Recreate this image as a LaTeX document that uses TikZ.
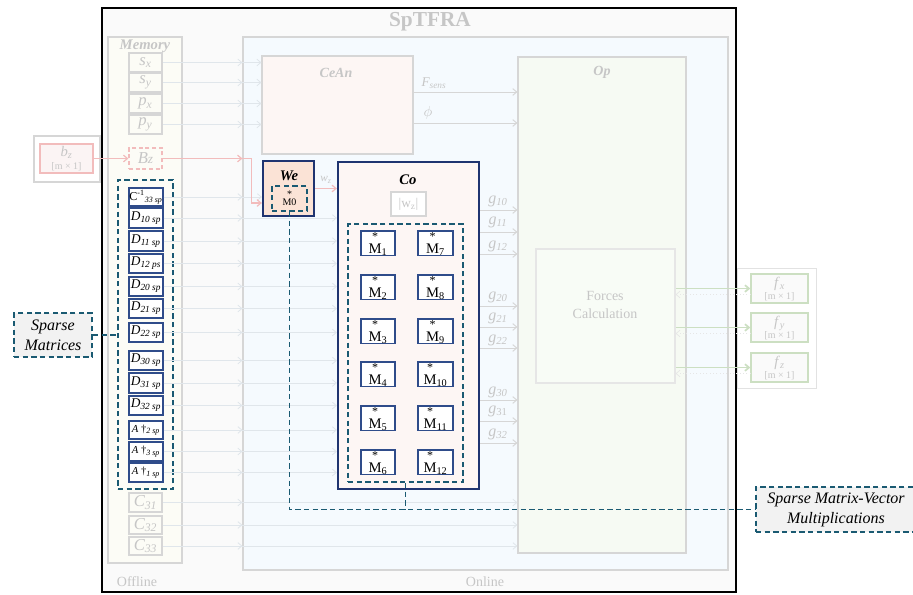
\documentclass[tikz,border=0pt]{standalone}
\usepackage{fontspec}
\setmainfont{Liberation Serif}
\usepackage{amsmath}
\usetikzlibrary{arrows.meta,calc}
\definecolor{fadegray}{HTML}{D6D6D6}
\definecolor{fadetext}{HTML}{C6C6C6}
\definecolor{navy}{HTML}{1F3470}
\definecolor{mnavy}{HTML}{2F4C8A}
\definecolor{tealc}{HTML}{1A5A72}
\definecolor{framefill}{HTML}{FAFAFA}
\definecolor{memfill}{HTML}{FCFCF6}
\definecolor{onfill}{HTML}{F5FAFE}
\definecolor{ceanfill}{HTML}{FDF6F4}
\definecolor{wefill}{HTML}{FBE3D6}
\definecolor{opfill}{HTML}{F6FAF3}
\definecolor{fcfill}{HTML}{F8FCF6}
\definecolor{pinkline}{HTML}{F2BCBC}
\definecolor{pinkfill}{HTML}{FBF4F4}
\definecolor{greenline}{HTML}{CCDFC2}
\definecolor{calloutfill}{HTML}{F2F2F2}
\definecolor{faintline}{HTML}{E0E6EB}
\newcommand{\mybox}[7][]{\node[#1,inner sep=0pt,align=center,minimum width={(#5-(#3))*0.75pt},minimum height={(#6-(#4))*0.75pt}] (#2) at ({(#3+#5)/2},{(#4+#6)/2}) {#7};}
\newcommand{\starM}[1]{$\overset{\text{\fontsize{9}{9}\selectfont *}}{\text{M}}_{\text{#1}}$}
\begin{document}
\begin{tikzpicture}[x=0.75pt,y=-0.75pt,
  barb/.style={-{Straight Barb[length=3pt,width=5pt]}},
  fadebox/.style={draw=fadegray,line width=0.8pt,fill=#1},
  fadebox/.default=white,
  spbox/.style={draw=mnavy,line width=1.1pt,fill=white,font=\fontsize{10}{11}\selectfont},
  mbox/.style={draw=mnavy,line width=0.9pt,fill=white,font=\fontsize{11}{11}\selectfont},
  navybox/.style={draw=navy,line width=1.6pt},
  tealdash/.style={draw=tealc,dash pattern=on 4pt off 2.5pt,line width=1.3pt},
  faintarrow/.style={draw=faintline,line width=0.6pt,barb},
  fadearrow/.style={draw=fadegray,line width=0.7pt,barb},
  pinkarrow/.style={draw=pinkline,line width=0.9pt,barb},
  greenarrow/.style={draw=greenline,line width=1.3pt,barb},
  memfont/.style={font=\fontsize{12.5}{13}\selectfont\itshape,text=fadetext},
]
\useasboundingbox (0,0) rectangle (913,594);
\fill[white] (0,0) rectangle (913,594);

% outer frame
\mybox[draw=black,line width=1pt,fill=framefill]{frame}{102}{8}{736}{592}{}
\node[font=\fontsize{16}{18}\selectfont\bfseries,text=fadetext] (title) at (430,22) {SpTFRA};

% memory column
\mybox[fadebox=memfill]{memory}{108}{37}{182}{563}{}
\node[font=\fontsize{11}{12}\selectfont\bfseries\itshape,text=fadetext] (memt) at (145,46) {Memory};
\node[font=\fontsize{10.5}{12}\selectfont,text=fadetext] (offl) at (137,582) {Offline};

% online area
\mybox[fadebox=onfill]{online}{243}{37}{728}{570}{}
\node[font=\fontsize{10.5}{12}\selectfont,text=fadetext] (onl) at (485,582) {Online};

% b_z input
\mybox[fadebox=white]{bzout}{34}{136}{100}{182}{}
\mybox[draw=pinkline,line width=0.9pt,fill=pinkfill,text=fadetext]{bzin}{40}{144}{93}{173}{{\fontsize{11}{11}\selectfont\textit{b}\textsubscript{\textit{z}}}\\[-2pt]{\fontsize{7.5}{8}\selectfont[m × 1]}}

% memory items
\mybox[fadebox=memfill,memfont]{sx}{129}{53}{162}{72}{s\textsubscript{x}}
\mybox[fadebox=memfill,memfont]{sy}{129}{73}{162}{92}{s\textsubscript{y}}
\mybox[fadebox=memfill,memfont]{px}{129}{94}{162}{113}{p\textsubscript{x}}
\mybox[fadebox=memfill,memfont]{py}{129}{115}{162}{134}{p\textsubscript{y}}
\mybox[draw=pinkline,dash pattern=on 3pt off 2pt,line width=0.9pt,fill=memfill,memfont]{Bz}{129}{148}{162}{169}{B{\fontsize{10}{10}\selectfont z}}

% sparse matrices group
\mybox[tealdash]{spgrp}{118}{180}{173}{489}{}
\mybox[spbox,font=\fontsize{9}{9}\selectfont]{c33i}{129}{188}{163}{206}{C\textsuperscript{\fontsize{6}{6}\selectfont -1}\textsubscript{\fontsize{6}{6}\selectfont\itshape 33 sp}}
\mybox[spbox]{d10}{129}{208}{163}{228}{$\textit{D}_{\textit{10 sp}}$}
\mybox[spbox]{d11}{129}{231}{163}{251}{$\textit{D}_{\textit{11 sp}}$}
\mybox[spbox]{d12}{129}{254}{163}{273}{$\textit{D}_{\textit{12 ps}}$}
\mybox[spbox]{d20}{129}{277}{163}{296}{$\textit{D}_{\textit{20 sp}}$}
\mybox[spbox]{d21}{129}{299}{163}{318}{$\textit{D}_{\textit{21 sp}}$}
\mybox[spbox]{d22}{129}{323}{163}{342}{$\textit{D}_{\textit{22 sp}}$}
\mybox[spbox]{d30}{129}{351}{163}{370}{$\textit{D}_{\textit{30 sp}}$}
\mybox[spbox]{d31}{129}{373}{163}{393}{$\textit{D}_{\textit{31 sp}}$}
\mybox[spbox]{d32}{129}{396}{163}{415}{$\textit{D}_{\textit{32 sp}}$}
\mybox[spbox,font=\fontsize{8}{9}\selectfont]{a2}{129}{421}{163}{439}{\textit{A} †$_{\textit{2 sp}}$}
\mybox[spbox,font=\fontsize{8}{9}\selectfont]{a3}{129}{442}{163}{461}{\textit{A} †$_{\textit{3 sp}}$}
\mybox[spbox,font=\fontsize{8}{9}\selectfont]{a1}{129}{463}{163}{482}{\textit{A} †$_{\textit{1 sp}}$}
\mybox[fadebox=memfill,memfont]{c31}{129}{493}{162}{512}{C\textsubscript{31}}
\mybox[fadebox=memfill,memfont]{c32}{129}{516}{162}{534}{C\textsubscript{32}}
\mybox[fadebox=memfill,memfont]{c33}{129}{537}{162}{555}{C\textsubscript{33}}

% CeAn
\mybox[fadebox=ceanfill]{cean}{262}{56}{413}{154}{}
\node[font=\fontsize{10.5}{12}\selectfont\bfseries\itshape,text=fadetext] (ceant) at (336,73) {CeAn};

% Op
\mybox[fadebox=opfill]{op}{518}{57}{686}{553}{}
\node[font=\fontsize{10.5}{12}\selectfont\bfseries\itshape,text=fadetext] (opt) at (602,72) {Op};
\mybox[draw=fadegray!60,line width=0.8pt,fill=fcfill]{fc}{536}{249}{675}{383}{}
\node[font=\fontsize{10.5}{13}\selectfont,text=fadetext,align=center] (fctext) at (605,305) {Forces\\Calculation};

% We
\mybox[navybox,fill=wefill]{we}{263}{161}{314}{216}{}
\node[font=\fontsize{11}{12}\selectfont\bfseries\itshape] (wet) at (289,176) {We};
\mybox[tealdash,font=\fontsize{7.5}{8}\selectfont]{m0}{272}{186}{307}{211}{*\\[-2pt]M0}

% Co
\mybox[navybox,fill=ceanfill]{co}{338}{162}{479}{489}{}
\node[font=\fontsize{11}{12}\selectfont\bfseries\itshape] (cot) at (408,180) {Co};
\mybox[fadebox=white,font=\fontsize{10}{11}\selectfont,text=fadetext]{wz}{391}{192}{426}{216}{|w\textsubscript{z}|}
\mybox[tealdash]{mgrp}{348}{224}{463}{482}{}
\foreach \i/\yt in {1/231,2/275,3/319,4/362,5/406,6/450}{
  \pgfmathtruncatemacro{\j}{\i+6}
  \mybox[mbox]{m\i}{361}{\yt}{395}{\yt+24.5}{\starM{\i}}
  \mybox[mbox]{m\j}{418}{\yt}{453}{\yt+24.5}{\starM{\j}}
}

% f outputs
\mybox[draw=fadegray!70,line width=0.6pt,fill=white]{fgrp}{737}{268}{816}{388}{}
\mybox[draw=greenline,line width=1pt,fill=framefill,text=fadetext]{fx}{751}{274}{808}{303}{{\fontsize{11}{11}\selectfont\textit{f}\textsubscript{\textit{x}}}\\[-3pt]{\fontsize{7.5}{8}\selectfont[m × 1]}}
\mybox[draw=greenline,line width=1pt,fill=framefill,text=fadetext]{fy}{751}{313}{808}{342}{{\fontsize{11}{11}\selectfont\textit{f}\textsubscript{\textit{y}}}\\[-3pt]{\fontsize{7.5}{8}\selectfont[m × 1]}}
\mybox[draw=greenline,line width=1pt,fill=framefill,text=fadetext]{fz}{751}{353}{808}{382}{{\fontsize{11}{11}\selectfont\textit{f}\textsubscript{\textit{z}}}\\[-3pt]{\fontsize{7.5}{8}\selectfont[m × 1]}}

% faint memory lines
\foreach \n/\t in {sx/cean,sy/cean,px/cean,py/cean,c33i/we,d10/co,d11/co,d12/co,d20/co,d21/co,d22/co,d30/co,d31/co,d32/co,a2/co,a3/co,a1/co,c31/op,c32/op,c33/op}{
  \draw[faintarrow] (\n.east) -- (\n.east -| online.west);
  \draw[faintarrow] (\n.east -| online.west) -- (\n.east -| \t.west);
}

% pink b_z path
\draw[pinkarrow] (bzin.east) -- (Bz.west);
\draw[pinkarrow] (Bz.east) -- (Bz.east -| online.west);
\draw[pinkline,line width=0.9pt,barb] (Bz.east -| online.west) -- ++(9,0) |- ($(we.west)+(0,14.5)$);
\draw[pinkarrow] (we.east) -- (we.east -| co.west);
\node[font=\fontsize{8.5}{9}\selectfont\itshape,text=fadetext] (wzl) at (326,180) {w\textsubscript{z}};

% CeAn outputs
\draw[fadearrow] (cean.east |- 0,92) -- (op.west |- 0,92);
\node[font=\fontsize{10}{11}\selectfont\itshape,text=fadetext] (fsl) at (434,83) {F\textsubscript{sens}};
\draw[fadearrow] (cean.east |- 0,123) -- (op.west |- 0,123);
\node[text=fadetext,font=\fontsize{11}{12}\selectfont] (phil) at (428,113) {$\phi$};

% g outputs
\foreach \yy/\ly/\lab in {210/201/{\textit{10}},232/222/{\textit{11}},254/246/{\textit{12}},306/297/{\textit{20}},327/318/{\textit{21}},348/340/{\textit{22}},400/392/{\textit{30}},421/411/{31},443/434/{\textit{32}}}{
  \draw[fadearrow] (co.east |- 0,\yy) -- (op.west |- 0,\yy);
  \node[font=\fontsize{12}{12}\selectfont,text=fadetext] at (498,\ly) {\textit{g}\textsubscript{\lab}};
}

% force outputs
\draw[greenarrow] (fc.east |- fx.west) -- (fx.west);
\draw[greenarrow] (fc.east |- fy.west) -- (fy.west);
\draw[greenarrow] (fc.east |- fz.west) -- (fz.west);
\draw[draw=fadegray!60,line width=0.5pt,dotted,barb] ($(fx.west)+(0,6)$) -- ($(fc.east |- fx.west)+(0,6)$);
\draw[draw=fadegray!60,line width=0.5pt,dotted,barb] ($(fy.west)+(0,6)$) -- ($(fc.east |- fy.west)+(0,6)$);
\draw[draw=fadegray!60,line width=0.5pt,dotted,barb] ($(fz.west)+(0,6)$) -- ($(fc.east |- fz.west)+(0,6)$);

% callouts
\mybox[tealdash,fill=calloutfill,font=\fontsize{12}{15}\selectfont\itshape]{spm}{14}{313}{92}{357}{Sparse\\Matrices}
\draw[tealdash] (spm.east) -- (spm.east -| spgrp.west);
\mybox[tealdash,fill=calloutfill,font=\fontsize{12}{15}\selectfont\itshape]{smv}{756}{487}{916}{532}{Sparse Matrix-Vector\\Multiplications}
\draw[tealdash] (m0.south) -- (m0.south |- smv.west) -- (smv.west);
\draw[tealdash] (mgrp.south) -- (mgrp.south |- smv.west);
\end{tikzpicture}
\end{document}
